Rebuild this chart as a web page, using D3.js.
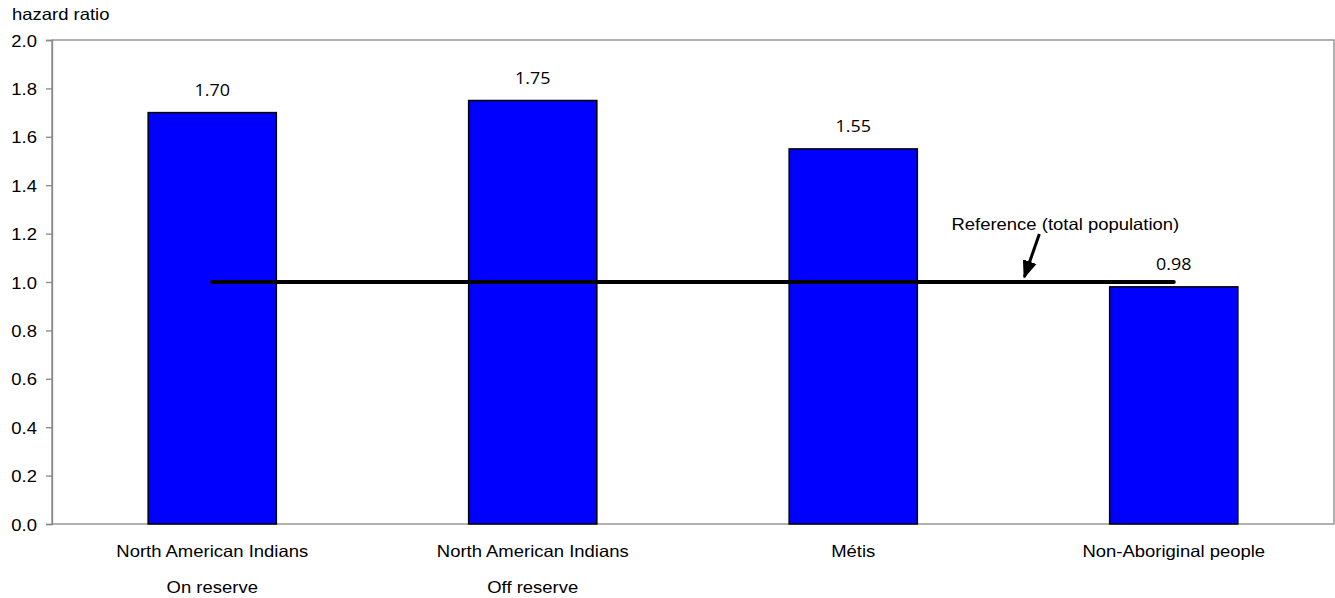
<!DOCTYPE html>
<html>
<head>
<meta charset="utf-8">
<script src="https://cdn.jsdelivr.net/npm/d3@7"></script>
<style>
  body { margin: 0; background: #fff; }
  svg { display: block; }
</style>
</head>
<body>
<svg id="chart" width="1335" height="598"></svg>
<script>
// Hazard ratios by population group
const categories = ["North American Indians|On reserve", "North American Indians|Off reserve", "Métis", "Non-Aboriginal people"];
const hazardRatios = [1.70, 1.75, 1.55, 0.98];
const valueLabels = ["1.70", "1.75", "1.55", "0.98"];
const yTicks = [0.0, 0.2, 0.4, 0.6, 0.8, 1.0, 1.2, 1.4, 1.6, 1.8, 2.0];
const referenceValue = 1.0;
const referenceLabel = "Reference (total population)";
const yAxisTitle = "hazard ratio";

const svg = d3.select("#chart");
const margin = { left: 52, top: 40, right: 1, bottom: 74 };
const width = 1335, height = 598;
const x0 = margin.left, x1 = width - margin.right;
const y0 = height - margin.bottom, y1 = margin.top;

const x = d3.scaleBand().domain(categories).range([x0, x1]).paddingInner(0.6).paddingOuter(0.3);
const y = d3.scaleLinear().domain([0, 2]).range([y0, y1]);

const axisColor = "#888";
const sans = "Liberation Sans, Arial, sans-serif";
const stretch = 1.12;   // text is set slightly wide

// text helper: places a horizontally widened label at (px, py)
function label(px, py, str, opts = {}) {
  svg.append("text")
    .attr("transform", `translate(${px},${py}) scale(${stretch},1)`)
    .attr("text-anchor", opts.anchor || "middle")
    .attr("font-family", opts.family || sans)
    .attr("font-size", opts.size || 16.5)
    .attr("fill", "#000")
    .text(str);
}

// plot frame
svg.append("rect")
  .attr("x", x0).attr("y", y1)
  .attr("width", x1 - x0).attr("height", y0 - y1)
  .attr("fill", "none").attr("stroke", axisColor).attr("stroke-width", 1.3);

// y axis
const yAxis = svg.append("g")
  .attr("transform", `translate(${x0},0)`)
  .call(d3.axisLeft(y).tickValues(yTicks).tickFormat(d3.format(".1f")).tickSize(6).tickPadding(9));
yAxis.select(".domain").attr("stroke", axisColor).attr("stroke-width", 1.3);
yAxis.selectAll(".tick line").attr("stroke", axisColor).attr("stroke-width", 1.3);
yAxis.selectAll(".tick text")
  .attr("font-family", sans).attr("font-size", 16.5).attr("fill", "#000")
  .attr("x", null).attr("dy", null)
  .attr("transform", `translate(-15,6) scale(${stretch},1)`);

label(12, 20, yAxisTitle, { anchor: "start" });

// bars
svg.selectAll("rect.bar")
  .data(categories)
  .join("rect")
  .attr("class", "bar")
  .attr("x", d => x(d))
  .attr("width", x.bandwidth())
  .attr("y", (d, i) => y(hazardRatios[i]))
  .attr("height", (d, i) => y(0) - y(hazardRatios[i]))
  .attr("fill", "#0000ff")
  .attr("stroke", "#000")
  .attr("stroke-width", 1.5);

// value labels
categories.forEach((c, i) => {
  label(x(c) + x.bandwidth() / 2, y(hazardRatios[i]) - 16.5, valueLabels[i],
        { family: "Open Sans, sans-serif", size: 16 });
});

// category labels (two lines)
categories.forEach(c => {
  const cx = x(c) + x.bandwidth() / 2;
  c.split("|").forEach((line, j) => label(cx, 557 + j * 35.5, line));
});

// reference line
const first = categories[0], last = categories[categories.length - 1];
svg.append("line")
  .attr("x1", x(first) + x.bandwidth() / 2)
  .attr("x2", x(last) + x.bandwidth() / 2)
  .attr("y1", y(referenceValue)).attr("y2", y(referenceValue))
  .attr("stroke", "#000").attr("stroke-width", 4).attr("stroke-linecap", "round");

// annotation with arrow
svg.append("defs").append("marker")
  .attr("id", "arrowhead")
  .attr("viewBox", "0 0 10 8")
  .attr("refX", 9).attr("refY", 4)
  .attr("markerWidth", 6).attr("markerHeight", 5)
  .attr("orient", "auto")
  .append("path").attr("d", "M0,0 L10,4 L0,8 Z").attr("fill", "#000");

const annX = x(categories[2]) + x.bandwidth() + 148;
label(annX, 230, referenceLabel);

svg.append("line")
  .attr("x1", annX - 26).attr("y1", 234)
  .attr("x2", annX - 41).attr("y2", y(referenceValue) - 5)
  .attr("stroke", "#000").attr("stroke-width", 3)
  .attr("marker-end", "url(#arrowhead)");
</script>
</body>
</html>
